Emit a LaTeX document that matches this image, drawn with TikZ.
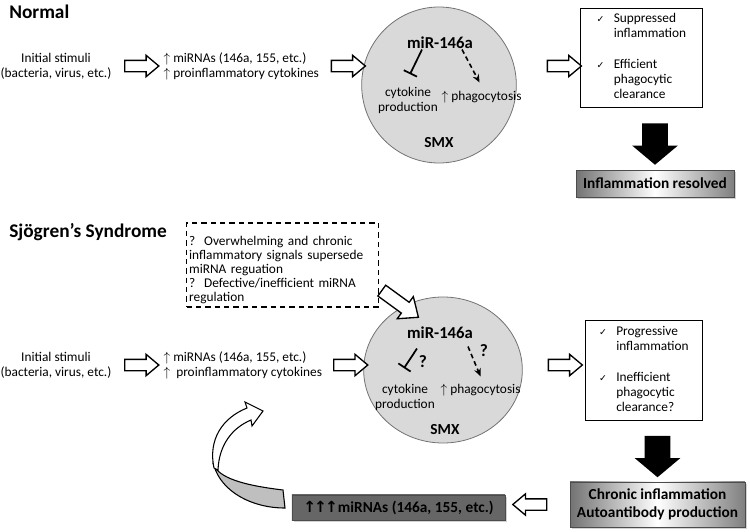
\documentclass[tikz,border=0pt]{standalone}
\usepackage{fontspec}
\setmainfont{Carlito}
\newfontfamily\symfont{DejaVu Sans}
\usetikzlibrary{shapes.arrows,shapes.geometric,arrows.meta,shadows,calc}

\tikzset{
  body/.style={font=\fontsize{10}{11.25}\selectfont, align=center, inner sep=1pt},
  heading/.style={font=\fontsize{14.5}{16}\selectfont\bfseries, anchor=base west, inner sep=0pt},
  bold/.style={font=\fontsize{11.5}{13.5}\selectfont\bfseries, inner sep=1pt},
  cell/.style={ellipse, draw=black!55, fill=black!15, line width=0.6pt},
  listbox/.style={body, draw=black, line width=0.6pt, anchor=north west},
  notebox/.style={body, font=\fontsize{10}{10.5}\selectfont, align=left, draw=black,
    line width=1.1pt, dash pattern=on 4pt off 3pt, text width=140pt, inner xsep=2pt, inner ysep=0pt},
  hollowarrow/.style={single arrow, draw=black, fill=white, line width=1pt, inner xsep=0pt,
    inner ysep=3.75pt, minimum height=25.5pt, single arrow head extend=3.75pt,
    single arrow tip angle=80, sloped, allow upside down},
  blackarrow/.style={single arrow, fill=black, inner xsep=0pt, inner ysep=9.5pt,
    minimum height=31pt, single arrow head extend=7.5pt, single arrow tip angle=100,
    sloped, allow upside down},
  shadebox/.style={bold, align=center, draw=black!70, line width=0.5pt,
    left color=black!55, right color=black!50, middle color=white,
    drop shadow={shadow xshift=1.5pt, shadow yshift=-1.5pt, opacity=0.35}},
  inhibit/.style={line width=1.3pt, -{Bar[width=11pt, line width=1.3pt]}},
  promote/.style={line width=1.2pt, dash pattern=on 3.5pt off 2.5pt, -{Stealth[length=6pt, width=5pt]}},
  query/.style={font=\fontsize{13}{15}\selectfont\bfseries, inner sep=0pt}
}

\begin{document}
\begin{tikzpicture}[x=0.75pt, y=-0.75pt]
    \useasboundingbox (0,0) rectangle (750,532);

    % Normal
    \node[heading] (titleA) at (9,18) {Normal};
    \node[body] (stimA) at (56,66) {Initial stimuli\\(bacteria, virus, etc.)};
    \node[body, anchor=west, align=left] (upA) at (162,66)
      {$\uparrow$ miRNAs (146a, 155, etc.)\\$\uparrow$ proinflammatory cytokines};
    \node[cell, minimum width=116pt, minimum height=117pt] (cellA) at (439,85) {};
    \node[bold, font=\fontsize{12.5}{14}\selectfont\bfseries] (mirA) at (440,43) {miR-146a};
    \node[body] (cytoA) at (408,100) {cytokine\\production};
    \node[body, anchor=west] (phagA) at (440,97) {$\uparrow$ phagocytosis};
    \node[bold] (smxA) at (439,143) {SMX};
    \node[listbox, minimum width=91.5pt, minimum height=74pt] (outA) at (580,8) {
      \begin{tabular}{@{}c@{\hspace{7pt}}l@{}}
      {\symfont\scriptsize ✓} & Suppressed\\
       & inflammation\\[12pt]
      {\symfont\scriptsize ✓} & Efficient\\
       & phagocytic\\
       & clearance
      \end{tabular}};
    \node[shadebox, minimum width=118.5pt, minimum height=20pt] (resA) at (655,183.5)
      {Inflammation resolved};

    \path (stimA.east) -- node[pos=0.52, hollowarrow] {} (upA.west);
    \path (upA.east) -- node[pos=0.6, hollowarrow] {} (upA.east -| cellA.west);
    \path (cellA.east |- upA.east) -- node[pos=0.7, hollowarrow] {} (outA.west |- upA.east);
    \path (resA.north |- outA.south) -- node[blackarrow] {} (resA.north);
    \draw[inhibit] ($(mirA.south)+(-18,-1)$) -- ($(cytoA.north)+(2,-11)$);
    \draw[promote] ($(mirA.south)+(22,-1)$) -- ($(phagA.north)+(-2,-7)$);

    % Sjogren's syndrome
    \node[heading] (titleB) at (9,237) {Sjögren's Syndrome};
    \node[notebox] (noteB) at (282.5,265) {
      \rule{0pt}{16.5pt}?\ \ Overwhelming and chronic\\
      inflammatory signals supersede\\
      miRNA reguation\\
      ?\ \ Defective/inefficient miRNA\\
      regulation\rule[-4.5pt]{0pt}{0pt}};
    \node[body] (stimB) at (56,365) {Initial stimuli\\(bacteria, virus, etc.)};
    \node[body, anchor=west, align=left] (upB) at (162,365)
      {$\uparrow$ miRNAs (146a, 155, etc.)\\$\uparrow$\ \ proinflammatory cytokines};
    \node[cell, minimum width=119pt, minimum height=109.5pt] (cellB) at (443,370) {};
    \node[bold, font=\fontsize{12.5}{14}\selectfont\bfseries] (mirB) at (440,333) {miR-146a};
    \node[body] (cytoB) at (405,397) {cytokine\\production};
    \node[body, anchor=west] (phagB) at (439,390) {$\uparrow$ phagocytosis};
    \node[bold] (smxB) at (445,430) {SMX};
    \node[query] (qcytoB) at (423,362) {?};
    \node[query] (qphagB) at (484,351) {?};
    \node[listbox, minimum width=87.75pt, minimum height=75pt] (outB) at (585,320) {
      \begin{tabular}{@{}c@{\hspace{7pt}}l@{}}
      {\symfont\scriptsize ✓} & Progressive\\
       & inflammation\\[12pt]
      {\symfont\scriptsize ✓} & Inefficient\\
       & phagocytic\\
       & clearance?
      \end{tabular}};
    \node[shadebox, minimum width=131pt, minimum height=34pt] (chronB) at (657.5,504.5)
      {Chronic inflammation\\Autoantibody production};
    \node[shadebox, minimum width=160pt, minimum height=19pt, left color=black!60,
      right color=black!60] (loopB) at (398.5,507.5)
      {{\symfont\bfseries ↑\kern-1.5pt↑\kern-1.5pt↑}miRNAs (146a, 155, etc.)};

    \path (stimB.east) -- node[pos=0.52, hollowarrow] {} (upB.west);
    \path (upB.east) -- node[pos=0.6, hollowarrow] {} (upB.east -| cellB.west);
    \path (cellB.east |- upB.east) -- node[pos=0.63, hollowarrow] {} (outB.west |- upB.east);
    \path ($(noteB.south east)+(0,-19)$) -- node[pos=0.35, hollowarrow, minimum height=34pt,
      inner ysep=4.5pt, single arrow head extend=5.25pt] {} (mirB);
    \path (chronB.north |- outB.south) -- node[blackarrow] {} (chronB.north);
    \path (chronB.west) -- node[pos=0.57, hollowarrow] {} (loopB.east |- chronB.west);
    \draw[inhibit] ($(mirB.south)+(-23,8)$) -- ($(cytoB.north)+(-1,-14)$);
    \draw[promote] ($(mirB.south)+(28,6)$) -- ($(phagB.north)+(0,-6)$);

    % feedback loop
    \filldraw[line width=0.8pt, fill=black!25] (283,490) .. controls (250,486) and (222,480) .. (214,466)
      .. controls (222,492) and (252,508) .. (285,508) -- cycle;
    \filldraw[line width=0.8pt, fill=white] (214,468) .. controls (208,440) and (222,418) .. (247,408)
      -- (245,402) -- (263,411) -- (252,426) -- (251,420)
      .. controls (232,428) and (219,445) .. (218,470) -- cycle;
\end{tikzpicture}
\end{document}
